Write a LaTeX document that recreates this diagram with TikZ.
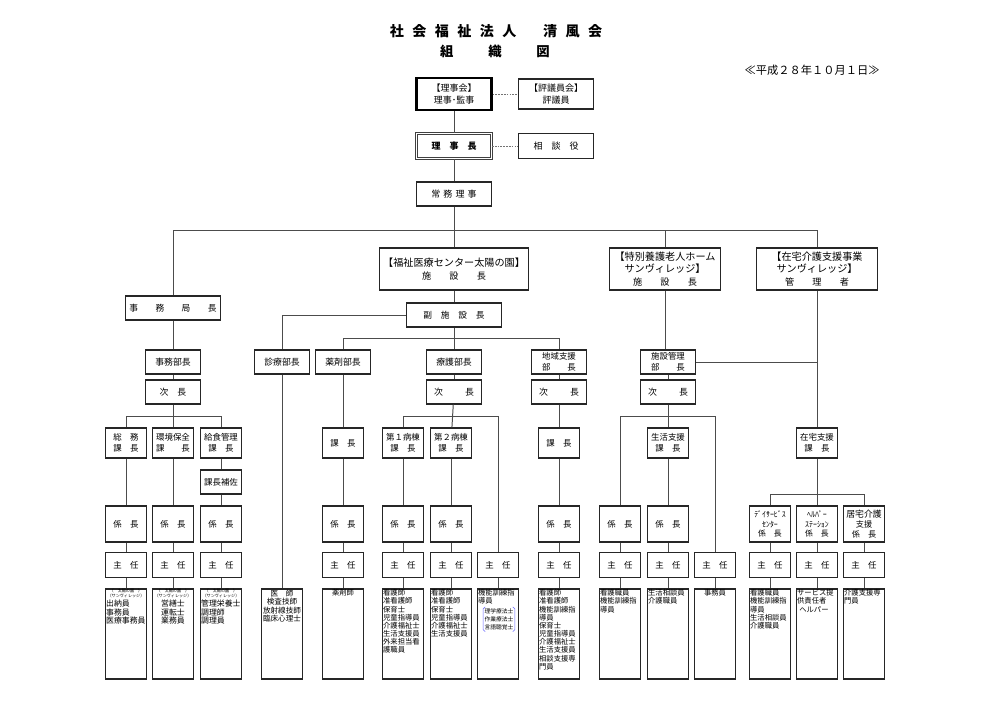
\documentclass[tikz,border=0pt]{standalone}
\usepackage{fontspec}
\setmainfont{Noto Sans CJK JP}
\newcommand{\gap}[1]{\hspace{#1em}}

\tikzset{
  box/.style={draw=black!85, line width=0.9pt, inner sep=0pt, align=center,
    font=\fontsize{6}{7.8}\selectfont},
  topbox/.style={box, minimum width=1.875cm, font=\fontsize{6.4}{8}\selectfont},
  bigbox/.style={box, minimum height=1.05cm, font=\fontsize{7.2}{9}\selectfont},
  headbox/.style={box, minimum width=2.375cm, minimum height=0.6cm, font=\fontsize{6.2}{7.8}\selectfont},
  bubox/.style={box, minimum width=1.375cm, minimum height=0.6cm, font=\fontsize{6.3}{7.8}\selectfont},
  kabox/.style={box, minimum width=1.025cm, minimum height=0.75cm},
  kakari/.style={box, minimum width=1.025cm, minimum height=0.9cm},
  shunin/.style={box, minimum width=1.025cm, minimum height=0.625cm},
  staff/.style={box, minimum width=1.025cm, minimum height=2.25cm},
  stafftxt/.style={anchor=north west, inner sep=0.7pt, align=left, font=\fontsize{5.2}{5.8}\selectfont},
  staffmid/.style={stafftxt, anchor=north, align=center},
  tinytxt/.style={anchor=north, inner sep=0.4pt, align=center, font=\fontsize{2.9}{3.4}\selectfont},
  link/.style={draw=black!70, line width=0.7pt},
  dotlink/.style={draw=black!55, line width=0.45pt, dash pattern=on 1.2pt off 0.8pt},
}

\begin{document}
\begin{tikzpicture}[x=0.025cm, y=-0.025cm]
  \useasboundingbox (0,0) rectangle (991,700);

  % Title
  \node[font=\fontsize{10}{12}\selectfont\bfseries] (title) at (496,31)
    {社\gap{.6}会\gap{.6}福\gap{.6}祉\gap{.6}法\gap{.6}人\gap{1.9}清\gap{.6}風\gap{.6}会};
  \node[font=\fontsize{9.5}{12}\selectfont\bfseries] (subtitle) at (495,51)
    {組\gap{2.6}織\gap{2.6}図};
  \node[anchor=east, inner sep=0pt, font=\fontsize{8}{10}\selectfont] (date) at (880,70)
    {≪平成２８年１０月１日≫};

  % Board
  \node[topbox, minimum height=0.8cm, line width=1.6pt, draw=black] (riji) at (454,94) {【理事会】\\理事･監事};
  \node[topbox, minimum height=0.75cm] (hyogi) at (556,94) {【評議員会】\\評議員};
  \node[topbox, minimum height=0.625cm, double=white, double distance=1pt, line width=0.7pt, draw=black!75]
    (rijicho) at (454,146) {\bfseries 理\gap{1}事\gap{1}長};
  \node[topbox, minimum height=0.625cm] (sodan) at (556,146) {相\gap{1}談\gap{1}役};
  \node[topbox, minimum height=0.6cm] (jomu) at (454,194) {常\gap{.35}務\gap{.35}理\gap{.35}事};

  \draw[dotlink] (riji) -- (hyogi);
  \draw[dotlink] (rijicho) -- (sodan);
  \draw[link] (riji) -- (rijicho);
  \draw[link] (rijicho) -- (jomu);

  % Facilities
  \coordinate (bus) at (0,230);
  \node[bigbox, minimum width=3.725cm] (fukushi) at (454,269)
    {【福祉医療センター太陽の園】\\{\fontsize{6.5}{9}\selectfont 施\gap{2}設\gap{2}長}};
  \node[bigbox, minimum width=2.775cm] (tokuyo) at (665,269)
    {【特別養護老人ホーム\\サンヴィレッジ】\\{\fontsize{6.5}{9}\selectfont 施\gap{2}設\gap{2}長}};
  \node[bigbox, minimum width=3.025cm] (zaitaku) at (817,269)
    {【在宅介護支援事業\\サンヴィレッジ】\\{\fontsize{6.5}{9}\selectfont 管\gap{2}理\gap{2}者}};
  \node[headbox] (jimukyoku) at (173,308) {事\gap{2}務\gap{2}局\gap{2}長};
  \node[headbox] (fukuchou) at (454,315) {副\gap{1}施\gap{1}設\gap{1}長};

  \draw[link] (jomu) -- (fukushi);
  \draw[link] (jimukyoku.north) |- (zaitaku.north |- bus) -- (zaitaku.north);
  \draw[link] (tokuyo.north) -- (tokuyo.north |- bus);
  \draw[link] (fukushi) -- (fukuchou);

  % Department heads
  \coordinate (bus2) at (0,338);
  \node[bubox] (jimubu) at (173,362) {事務部長};
  \node[bubox] (shinryo) at (282,362) {診療部長};
  \node[bubox] (yakuzai) at (343,362) {薬剤部長};
  \node[bubox] (ryogo) at (454,362) {療護部長};
  \node[bubox, font=\fontsize{6}{7.6}\selectfont] (chiiki) at (559,362) {地域支援\\部\gap{2}長};
  \node[bubox, font=\fontsize{6}{7.6}\selectfont] (shisetsu) at (668,362) {施設管理\\部\gap{2}長};

  \draw[link] (jimukyoku) -- (jimubu);
  \draw[link] (fukuchou.west) -| (shinryo.north);
  \draw[link] (yakuzai.north) |- (chiiki.north |- bus2) -- (chiiki.north);
  \draw[link] (fukuchou) -- (ryogo);
  \draw[link] (tokuyo.south) -- (tokuyo.south |- shisetsu.north);
  \draw[link] (shisetsu.east) -- (shisetsu.east -| zaitaku.south);

  % Deputies
  \node[bubox] (jimujicho) at (173,392) {次\gap{1}長};
  \node[bubox] (ryogojicho) at (454,392) {次\gap{2.5}長};
  \node[bubox] (chiikijicho) at (559,392) {次\gap{2.5}長};
  \node[bubox] (shisetsujicho) at (668,392) {次\gap{2.5}長};

  \draw[link] (jimubu) -- (jimujicho);
  \draw[link] (ryogo) -- (ryogojicho);
  \draw[link] (chiiki) -- (chiikijicho);
  \draw[link] (shisetsu) -- (shisetsujicho);

  % Section chiefs
  \coordinate (bus3) at (0,416);
  \coordinate (bus4) at (0,494);
  \node[kabox] (somu) at (126,443) {総\gap{1}務\\課\gap{1}長};
  \node[kabox] (kankyo) at (173,443) {環境保全\\課\gap{2}長};
  \node[kabox] (kyushoku) at (221,443) {給食管理\\課\gap{1}長};
  \node[box, minimum width=1.025cm, minimum height=0.6cm] (hosa) at (221,482) {課長補佐};
  \node[kabox] (yakuka) at (343,443) {課\gap{1}長};
  \node[kabox] (byoto1) at (403,443) {第１病棟\\課\gap{1}長};
  \node[kabox] (byoto2) at (451,443) {第２病棟\\課\gap{1}長};
  \node[kabox] (chiikika) at (559,443) {課\gap{1}長};
  \node[kabox] (seikatsu) at (668,443) {生活支援\\課\gap{1}長};
  \node[kabox] (zaitakuka) at (817,443) {在宅支援\\課\gap{1}長};

  % Chiefs
  \node[kakari] (kak1) at (126,524) {係\gap{1}長};
  \node[kakari] (kak2) at (173,524) {係\gap{1}長};
  \node[kakari] (kak3) at (221,524) {係\gap{1}長};
  \node[kakari] (kak4) at (343,524) {係\gap{1}長};
  \node[kakari] (kak5) at (403,524) {係\gap{1}長};
  \node[kakari] (kak6) at (451,524) {係\gap{1}長};
  \node[kakari] (kak7) at (559,524) {係\gap{1}長};
  \node[kakari] (kak8) at (620,524) {係\gap{1}長};
  \node[kakari] (kak9) at (668,524) {係\gap{1}長};
  \node[kakari, font=\fontsize{5.6}{7}\selectfont] (kak10) at (770,524) {ﾃﾞｲｻｰﾋﾞｽ\\ｾﾝﾀｰ\\係\gap{1}長};
  \node[kakari, font=\fontsize{5.6}{7}\selectfont] (kak11) at (817,524) {ﾍﾙﾊﾟｰ\\ｽﾃｰｼｮﾝ\\係\gap{1}長};
  \node[kakari, font=\fontsize{5.8}{7}\selectfont] (kak12) at (864,524) {\fontsize{6.3}{7}\selectfont 居宅介護\\支援\\係\gap{1}長};

  % Supervisors
  \node[shunin] (shu1) at (126,565) {主\gap{1}任};
  \node[shunin] (shu2) at (173,565) {主\gap{1}任};
  \node[shunin] (shu3) at (221,565) {主\gap{1}任};
  \node[shunin] (shu4) at (343,565) {主\gap{1}任};
  \node[shunin] (shu5) at (403,565) {主\gap{1}任};
  \node[shunin] (shu6) at (451,565) {主\gap{1}任};
  \node[shunin] (shu7) at (498,565) {主\gap{1}任};
  \node[shunin] (shu8) at (559,565) {主\gap{1}任};
  \node[shunin] (shu9) at (620,565) {主\gap{1}任};
  \node[shunin] (shu10) at (668,565) {主\gap{1}任};
  \node[shunin] (shu11) at (715,565) {主\gap{1}任};
  \node[shunin] (shu12) at (770,565) {主\gap{1}任};
  \node[shunin] (shu13) at (817,565) {主\gap{1}任};
  \node[shunin] (shu14) at (864,565) {主\gap{1}任};

  % Staff
  \node[staff] (stf1) at (126,634) {};
  \node[staff] (stf2) at (173,634) {};
  \node[staff] (stf3) at (221,634) {};
  \node[staff] (ishi) at (282,634) {};
  \node[staff] (stf4) at (343,634) {};
  \node[staff] (stf5) at (403,634) {};
  \node[staff] (stf6) at (451,634) {};
  \node[staff] (stf7) at (498,634) {};
  \node[staff] (stf8) at (559,634) {};
  \node[staff] (stf9) at (620,634) {};
  \node[staff] (stf10) at (668,634) {};
  \node[staff] (stf11) at (715,634) {};
  \node[staff] (stf12) at (770,634) {};
  \node[staff] (stf13) at (817,634) {};
  \node[staff] (stf14) at (864,634) {};

  \node[tinytxt] (tiny1) at (stf1.north) {（\gap{1}太陽の園\gap{1}）\\（サンヴィレッジ）};
  \node[tinytxt] (tiny2) at (stf2.north) {（\gap{1}太陽の園\gap{1}）\\（サンヴィレッジ）};
  \node[tinytxt] (tiny3) at (stf3.north) {（\gap{1}太陽の園\gap{1}）\\（サンヴィレッジ）};
  \node[stafftxt, font=\fontsize{5.6}{6.1}\selectfont] at (tiny1.south -| stf1.west) {出納員\\事務員\\医療事務員};
  \node[staffmid, font=\fontsize{5.6}{6.1}\selectfont] at (tiny2.south) {営繕士\\運転士\\業務員};
  \node[stafftxt, font=\fontsize{5.6}{6.1}\selectfont] at (tiny3.south -| stf3.west) {管理栄養士\\調理師\\調理員};
  \node[staffmid, font=\fontsize{5.4}{6.1}\selectfont] at (ishi.north) {医\gap{1}師\\検査技師\\放射線技師\\臨床心理士};
  \node[staffmid] at (stf4.north) {薬剤師};
  \node[stafftxt] at (stf5.north west) {看護師\\准看護師\\保育士\\児童指導員\\介護福祉士\\生活支援員\\外来担当看\\護職員};
  \node[stafftxt] at (stf6.north west) {看護師\\准看護師\\保育士\\児童指導員\\介護福祉士\\生活支援員};
  \node[stafftxt] (kino) at (stf7.north west) {機能訓練指\\導員};
  \node[anchor=north west, inner sep=0.8pt, align=left, font=\fontsize{4.1}{5.7}\selectfont]
    (ryoho) at ([xshift=4.5pt, yshift=-1pt]kino.south west) {理学療法士\\作業療法士\\言語聴覚士};
  \draw[blue!60, line width=0.4pt, rounded corners=1.2pt]
    ([xshift=1.6pt]ryoho.north west) -- (ryoho.north west) -- (ryoho.south west) -- ([xshift=1.6pt]ryoho.south west);
  \draw[blue!60, line width=0.4pt, rounded corners=1.2pt]
    ([xshift=-1.6pt]ryoho.north east) -- (ryoho.north east) -- (ryoho.south east) -- ([xshift=-1.6pt]ryoho.south east);
  \node[stafftxt] at (stf8.north west) {看護師\\准看護師\\機能訓練指\\導員\\保育士\\児童指導員\\介護福祉士\\生活支援員\\相談支援専\\門員};
  \node[stafftxt] at (stf9.north west) {看護職員\\機能訓練指\\導員};
  \node[stafftxt] at (stf10.north west) {生活相談員\\介護職員};
  \node[staffmid] at (stf11.north) {事務員};
  \node[stafftxt] at (stf12.north west) {看護職員\\機能訓練指\\導員\\生活相談員\\介護職員};
  \node[stafftxt] at (stf13.north west) {サービス提\\供責任者\\\gap{.3}ヘルパー};
  \node[stafftxt] at (stf14.north west) {介護支援専\\門員};

  % Office branch
  \draw[link] (somu.north) |- (kyushoku.north |- bus3) -- (kyushoku.north);
  \draw[link] (jimujicho) -- (kankyo);
  \draw[link] (somu) -- (kak1) -- (shu1) -- (stf1);
  \draw[link] (kankyo) -- (kak2) -- (shu2) -- (stf2);
  \draw[link] (kyushoku) -- (hosa) -- (kak3) -- (shu3) -- (stf3);

  % Medical and pharmacy
  \draw[link] (shinryo) -- (ishi);
  \draw[link] (yakuzai) -- (yakuka) -- (kak4) -- (shu4) -- (stf4);

  % Care branch
  \draw[link] (byoto1.north) |- (shu7.north |- bus3) -- (shu7.north);
  \draw[link] (ryogojicho) -- (byoto2);
  \draw[link] (byoto1) -- (kak5) -- (shu5) -- (stf5);
  \draw[link] (byoto2) -- (kak6) -- (shu6) -- (stf6);
  \draw[link] (shu7) -- (stf7);
  \draw[link] (chiikijicho) -- (chiikika) -- (kak7) -- (shu8) -- (stf8);

  % Village branch
  \draw[link] (kak8.north) |- (shu11.north |- bus3) -- (shu11.north);
  \draw[link] (shisetsujicho) -- (seikatsu);
  \draw[link] (kak8) -- (shu9) -- (stf9);
  \draw[link] (seikatsu) -- (kak9) -- (shu10) -- (stf10);
  \draw[link] (shu11) -- (stf11);

  % Home care branch
  \draw[link] (zaitaku) -- (zaitakuka);
  \draw[link] (kak10.north) |- (kak12.north |- bus4) -- (kak12.north);
  \draw[link] (zaitakuka) -- (kak11);
  \draw[link] (kak10) -- (shu12) -- (stf12);
  \draw[link] (kak11) -- (shu13) -- (stf13);
  \draw[link] (kak12) -- (shu14) -- (stf14);
\end{tikzpicture}
\end{document}
